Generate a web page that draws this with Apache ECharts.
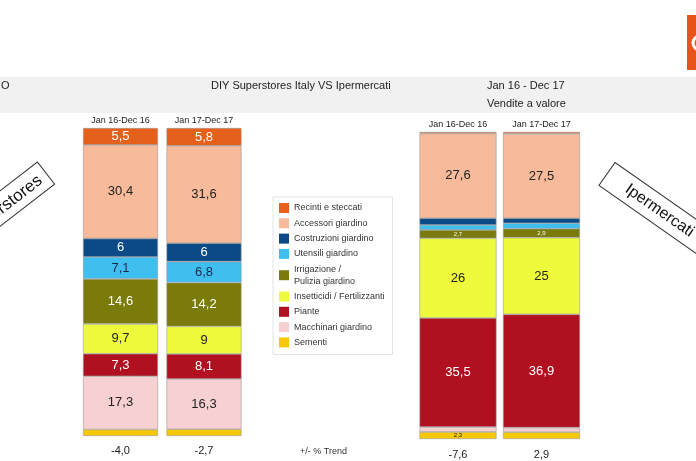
<!DOCTYPE html>
<html><head><meta charset="utf-8">
<script src="https://cdn.jsdelivr.net/npm/echarts@6/dist/echarts.min.js"></script>
<style>html,body{margin:0;padding:0;background:#fff}#c{width:696px;height:461px}</style>
</head><body><div id="c"></div>
<script>
const periods = ['Jan 16-Dec 16', 'Jan 17-Dec 17'];
const segmentNames = ['Recinti e steccati', 'Accessori giardino', 'Costruzioni giardino', 'Utensili giardino', 'Irrigazione / Pulizia giardino', 'Insetticidi / Fertilizzanti', 'Piante', 'Macchinari giardino', 'Sementi'];
const superstores2016 = [5.5, 30.4, 6, 7.1, 14.6, 9.7, 7.3, 17.3, 2.1];
const superstores2017 = [5.8, 31.6, 6, 6.8, 14.2, 9, 8.1, 16.3, 2.2];
const ipermercati2016 = [0.5, 27.6, 2.2, 1.6, 2.7, 26, 35.5, 1.6, 2.3];
const ipermercati2017 = [0.6, 27.5, 1.6, 1.8, 2.9, 25, 36.9, 1.5, 2.2];
const trendSuperstores = ['-4,0', '-2,7'];
const trendIpermercati = ['-7,6', '2,9'];

const colors = ['#e5601a', '#f7bb9b', '#0b4a86', '#3fbff0', '#7a7b0a', '#eefa3c', '#b0101f', '#f7d1d1', '#f6c908'];
const labelColors = ['#fff', '#222', '#fff', '#1b2a4a', '#fff', '#222', '#fff', '#222', '#222'];
const fmt = v => String(v).replace('.', ',');

const chart = echarts.init(document.getElementById('c'));
const series = [];
function addGroup(gi, a, b, tinyRule) {
  segmentNames.forEach((name, i) => {
    const data = [a[i], b[i]].map((v, j) => {
      const item = { value: v };
      if (v >= 5) {
        item.label = { show: true };
      } else if (tinyRule && tinyRule(i, j)) {
        item.label = { show: true, fontSize: 6 };
      } else {
        item.label = { show: false };
      }
      return item;
    });
    series.push({
      type: 'bar', name, stack: 'g' + gi, xAxisIndex: gi * 2, yAxisIndex: gi,
      barWidth: gi === 0 ? 75 : 77,
      itemStyle: { color: colors[i], borderColor: '#9a9a9a', borderWidth: 0.6 },
      label: { position: 'inside', color: labelColors[i], fontSize: 13, fontFamily: 'Liberation Sans, Arial', formatter: p => fmt(p.value) },
      emphasis: { disabled: true },
      data
    });
  });
}
addGroup(0, superstores2016, superstores2017, null);
addGroup(1, ipermercati2016, ipermercati2017, (i, j) => i === 4 || (i === 8 && j === 0));

const topAxis = (gi, margin) => ({
  type: 'category', gridIndex: gi, data: periods, position: 'top',
  axisLine: { show: false }, axisTick: { show: false },
  axisLabel: { margin, fontSize: 9, color: '#222', fontFamily: 'Liberation Sans, Arial' }
});
const bottomAxis = (gi, data, margin) => ({
  type: 'category', gridIndex: gi, data, position: 'bottom',
  axisLine: { show: false }, axisTick: { show: false },
  axisLabel: { margin, fontSize: 11, color: '#222', fontFamily: 'Liberation Sans, Arial' }
});
const yAx = gi => ({ type: 'value', gridIndex: gi, min: 0, max: 100, inverse: true, show: false, splitLine: { show: false } });

chart.setOption({
  animation: false,
  textStyle: { fontFamily: 'Liberation Sans, Arial' },
  grid: [
    { left: 78.75, width: 167, top: 128, height: 308 },
    { left: 416.25, width: 167, top: 132, height: 307 }
  ],
  xAxis: [topAxis(0, 3), bottomAxis(0, trendSuperstores, 9), topAxis(1, 3), bottomAxis(1, trendIpermercati, 10)],
  yAxis: [yAx(0), yAx(1)],
  legend: {
    data: segmentNames, orient: 'vertical', left: 273, top: 197,
    padding: [5, 8, 6, 6], itemWidth: 10, itemHeight: 10, itemGap: 3.3,
    borderColor: '#e4e4e4', borderWidth: 1, selectedMode: false,
    itemStyle: { borderWidth: 0 },
    formatter: n => n === 'Irrigazione / Pulizia giardino' ? 'Irrigazione /\nPulizia giardino' : n,
    textStyle: { fontSize: 9, color: '#333', lineHeight: 12 },
    icon: 'rect'
  },
  graphic: [
    { type: 'rect', left: 0, top: 77, shape: { width: 696, height: 36 }, style: { fill: '#f1f1f1' }, z: -1 },
    { type: 'text', left: 1, top: 80, style: { text: 'O', fontSize: 11, fill: '#222' } },
    { type: 'text', left: 211, top: 80, style: { text: 'DIY Superstores Italy VS Ipermercati', fontSize: 11, fill: '#222' } },
    { type: 'text', left: 487, top: 80, style: { text: 'Jan 16 - Dec 17', fontSize: 11, fill: '#222' } },
    { type: 'text', left: 487, top: 98, style: { text: 'Vendite a valore', fontSize: 11, fill: '#222' } },
    { type: 'text', left: 300, top: 447, style: { text: '+/- % Trend', fontSize: 9, fill: '#333' } },
    { type: 'rect', shape: { x: 687, y: 15, width: 9, height: 55 }, style: { fill: '#e8531c' } },
    { type: 'circle', shape: { cx: 700, cy: 43, r: 7 }, style: { fill: 'none', stroke: '#fff', lineWidth: 3 } },
    {
      type: 'group', x: 46, y: 173, rotation: 0.66,
      children: [
        { type: 'rect', shape: { x: -150, y: -14, width: 150, height: 28 }, style: { fill: '#fff', stroke: '#333', lineWidth: 1 } },
        { type: 'text', x: -8, y: 1, style: { text: 'Superstores', fontSize: 17, fill: '#111', align: 'right', verticalAlign: 'middle' } }
      ]
    },
    {
      type: 'group', x: 607, y: 174, rotation: -0.61,
      children: [
        { type: 'rect', shape: { x: 0, y: -14, width: 150, height: 28 }, style: { fill: '#fff', stroke: '#333', lineWidth: 1 } },
        { type: 'text', x: 24, y: 0, style: { text: 'Ipermercati', fontSize: 16, fill: '#111', align: 'left', verticalAlign: 'middle' } }
      ]
    }
  ],
  series
});
</script>
</body></html>
